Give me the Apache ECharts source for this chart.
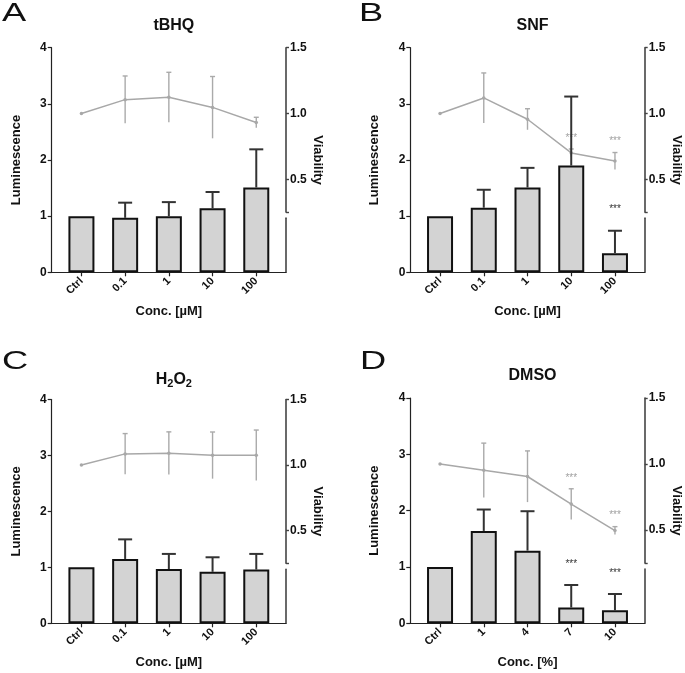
<!DOCTYPE html>
<html>
<head>
<meta charset="utf-8">
<script src="https://cdn.jsdelivr.net/npm/echarts@6/dist/echarts.min.js"></script>
<style>html,body{margin:0;padding:0;background:#fff}#c{width:685px;height:673px}</style>
</head>
<body>
<div id="c"></div>
<script>
// ---- data ----
var catsUM = ['Ctrl', '0.1', '1', '10', '100'];
var catsPct = ['Ctrl', '1', '4', '7', '10'];
var lumTicks = [0, 1, 2, 3, 4];
var viaTicks = [0.5, 1.0, 1.5];

var tbhqLum = [1.0, 0.97, 1.0, 1.14, 1.51];
var tbhqLumErr = [0, 0.27, 0.25, 0.29, 0.68];
var tbhqVia = [1.0, 1.105, 1.123, 1.046, 0.931];
var tbhqViaErr = [0, 0.18, 0.19, 0.235, 0.04];
var tbhqLumSig = ['', '', '', '', ''];
var tbhqViaSig = ['', '', '', '', ''];

var snfLum = [1.0, 1.15, 1.51, 1.90, 0.34];
var snfLumErr = [0, 0.32, 0.35, 1.23, 0.40];
var snfVia = [1.0, 1.118, 0.956, 0.70, 0.638];
var snfViaErr = [0, 0.19, 0.08, 0.03, 0.065];
var snfLumSig = ['', '', '', '', '***'];
var snfViaSig = ['', '', '', '***', '***'];

var h2o2Lum = [1.0, 1.15, 0.97, 0.92, 0.96];
var h2o2LumErr = [0, 0.35, 0.27, 0.26, 0.28];
var h2o2Via = [1.0, 1.085, 1.09, 1.074, 1.074];
var h2o2ViaErr = [0, 0.155, 0.163, 0.178, 0.193];
var h2o2LumSig = ['', '', '', '', ''];
var h2o2ViaSig = ['', '', '', '', ''];

var dmsoLum = [1.0, 1.64, 1.29, 0.28, 0.23];
var dmsoLumErr = [0, 0.38, 0.70, 0.40, 0.29];
var dmsoVia = [1.0, 0.952, 0.905, 0.696, 0.495];
var dmsoViaErr = [0, 0.206, 0.194, 0.116, 0.03];
var dmsoLumSig = ['', '', '', '***', '***'];
var dmsoViaSig = ['', '', '', '***', '***'];

var panels = [
  {letter: 'A', title: 'tBHQ', cats: catsUM, xName: 'Conc. [µM]', lum: tbhqLum, lumErr: tbhqLumErr, via: tbhqVia, viaErr: tbhqViaErr, lumSig: tbhqLumSig, viaSig: tbhqViaSig,
   L: 51.7, R: 286, T: 47.7, B: 272.3, lx: 2, ly: 2, ty: 13},
  {letter: 'B', title: 'SNF', cats: catsUM, xName: 'Conc. [µM]', lum: snfLum, lumErr: snfLumErr, via: snfVia, viaErr: snfViaErr, lumSig: snfLumSig, viaSig: snfViaSig,
   L: 410.3, R: 644.7, T: 47.7, B: 272.3, lx: 359, ly: 2, ty: 13},
  {letter: 'C', title: '{a|H}{s|2}{a|O}{s|2}', cats: catsUM, xName: 'Conc. [µM]', lum: h2o2Lum, lumErr: h2o2LumErr, via: h2o2Via, viaErr: h2o2ViaErr, lumSig: h2o2LumSig, viaSig: h2o2ViaSig,
   L: 51.7, R: 286, T: 399.5, B: 623.3, lx: 2, ly: 350, ty: 365},
  {letter: 'D', title: 'DMSO', cats: catsPct, xName: 'Conc. [%]', lum: dmsoLum, lumErr: dmsoLumErr, via: dmsoVia, viaErr: dmsoViaErr, lumSig: dmsoLumSig, viaSig: dmsoViaSig,
   L: 410.3, R: 644.7, T: 398, B: 623.3, lx: 360, ly: 350, ty: 363}
];

var FONT = '"Liberation Sans", Arial, sans-serif';
var XMIN = -0.68, XMAX = 4.68;

function errRenderer(color, lw, capHalf, starColor, starGap, starSize) {
  return function (params, api) {
    var x = api.value(0), lo = api.value(1), hi = api.value(2);
    var sig = api.value(3);
    var pLo = api.coord([x, lo]);
    var pHi = api.coord([x, hi]);
    var children = [];
    if (hi > lo) {
      children.push({type: 'line', shape: {x1: pLo[0], y1: pLo[1], x2: pHi[0], y2: pHi[1]}, style: {stroke: color, lineWidth: lw}});
      children.push({type: 'line', shape: {x1: pHi[0] - capHalf, y1: pHi[1], x2: pHi[0] + capHalf, y2: pHi[1]}, style: {stroke: color, lineWidth: lw}});
    }
    if (sig) {
      children.push({type: 'text', x: pHi[0], y: pHi[1] - starGap,
        style: {text: sig, fill: starColor, fontSize: starSize, fontFamily: FONT, align: 'center', verticalAlign: 'middle'}});
    }
    return {type: 'group', children: children};
  };
}

var grids = [], xAxes = [], yAxes = [], series = [], titles = [], graphics = [];

panels.forEach(function (p, k) {
  var H = p.B - p.T;
  var upH = 0.732 * H;
  var lowTop = p.T + 0.759 * H;
  var g0 = grids.length;
  grids.push({left: p.L, width: p.R - p.L, top: p.T, height: H});
  grids.push({left: p.L, width: p.R - p.L, top: p.T, height: upH});
  grids.push({left: p.L, width: p.R - p.L, top: lowTop, height: p.B - lowTop});

  var x0 = xAxes.length;
  xAxes.push({
    gridIndex: g0, type: 'value', min: XMIN, max: XMAX,
    name: p.xName, nameLocation: 'middle', nameGap: 33,
    nameTextStyle: {fontSize: 13, fontWeight: 'bold', fontFamily: FONT, color: '#111'},
    axisLine: {show: true, onZero: false, lineStyle: {color: '#222', width: 1.2}},
    axisTick: {show: true, length: 4, lineStyle: {color: '#222', width: 1.2}, customValues: [0, 1, 2, 3, 4]},
    axisLabel: {show: true, rotate: 45, margin: 7, fontSize: 11, fontWeight: 'bold', fontFamily: FONT, color: '#111',
      customValues: [0, 1, 2, 3, 4], formatter: (function (cats) { return function (v) { return cats[Math.round(v)]; }; })(p.cats)},
    splitLine: {show: false}
  });
  xAxes.push({gridIndex: g0 + 1, type: 'value', min: XMIN, max: XMAX, show: false});
  xAxes.push({gridIndex: g0 + 2, type: 'value', min: XMIN, max: XMAX, show: false});

  var y0 = yAxes.length;
  yAxes.push({
    gridIndex: g0, type: 'value', position: 'left', min: 0, max: 4, interval: 1,
    name: 'Luminescence', nameLocation: 'middle', nameGap: 29,
    nameTextStyle: {fontSize: 13, fontWeight: 'bold', fontFamily: FONT, color: '#111'},
    axisLine: {show: true, onZero: false, lineStyle: {color: '#222', width: 1.2}},
    axisTick: {show: true, length: 4, lineStyle: {color: '#222', width: 1.2}},
    axisLabel: {show: true, margin: 5, fontSize: 12, fontWeight: 'bold', fontFamily: FONT, color: '#111'},
    splitLine: {show: false}
  });
  yAxes.push({
    gridIndex: g0 + 1, type: 'value', position: 'right', min: 0.25, max: 1.5,
    axisLine: {show: true, onZero: false, lineStyle: {color: '#444', width: 1.6}},
    axisTick: {show: true, length: 3, lineStyle: {color: '#444', width: 1.4}, customValues: [0.25].concat(viaTicks)},
    axisLabel: {show: true, margin: 4, fontSize: 12, fontWeight: 'bold', fontFamily: FONT, color: '#111',
      customValues: viaTicks, formatter: function (v) { return v.toFixed(1); }},
    splitLine: {show: false}
  });
  yAxes.push({
    gridIndex: g0 + 2, type: 'value', position: 'right', min: 0, max: 1,
    axisLine: {show: true, onZero: false, lineStyle: {color: '#444', width: 1.6}},
    axisTick: {show: false}, axisLabel: {show: false}, splitLine: {show: false}
  });
  yAxes.push({
    gridIndex: g0, type: 'value', position: 'right', min: 0, max: 1,
    name: 'Viability', nameLocation: 'middle', nameGap: 25, nameRotate: -90,
    nameTextStyle: {fontSize: 13, fontWeight: 'bold', fontFamily: FONT, color: '#111'},
    axisLine: {show: false, onZero: false}, axisTick: {show: false}, axisLabel: {show: false}, splitLine: {show: false}
  });

  series.push({
    type: 'bar', xAxisIndex: x0, yAxisIndex: y0, barWidth: 26, silent: true, z: 2,
    itemStyle: {color: '#d3d3d3', borderColor: '#111', borderWidth: 2},
    data: p.lum.map(function (v, i) { return [i, v]; })
  });
  series.push({
    type: 'line', xAxisIndex: x0 + 1, yAxisIndex: y0 + 1, silent: true, z: 3,
    symbol: 'circle', symbolSize: 3.5, showSymbol: true,
    lineStyle: {color: '#a8a8a8', width: 1.5}, itemStyle: {color: '#a8a8a8'},
    data: p.via.map(function (v, i) { return [i, v]; })
  });
  series.push({
    type: 'custom', xAxisIndex: x0 + 1, yAxisIndex: y0 + 1, silent: true, z: 3,
    renderItem: errRenderer('#aaaaaa', 1.4, 2.5, '#a0a0a0', 11, 10),
    data: p.via.map(function (v, i) { return [i, v - p.viaErr[i], v + p.viaErr[i], p.viaSig[i]]; })
  });
  series.push({
    type: 'custom', xAxisIndex: x0, yAxisIndex: y0, silent: true, z: 4,
    renderItem: errRenderer('#333333', 2, 7, '#333333', 21, 10),
    data: p.lum.map(function (v, i) { return [i, v, v + p.lumErr[i], p.lumSig[i]]; })
  });

  titles.push({
    text: p.title, left: (p.L + p.R) / 2, top: p.ty, textAlign: 'center',
    textStyle: {fontSize: 16, fontWeight: 'bold', fontFamily: FONT, color: '#111',
      rich: {a: {fontSize: 16, fontWeight: 'bold', fontFamily: FONT, color: '#111'},
             s: {fontSize: 11, fontWeight: 'bold', fontFamily: FONT, color: '#111', padding: [8, 0, 0, 0]}}}
  });
  graphics.push({
    type: 'text', x: p.lx, y: p.ly, scaleX: 1.45, originX: 0,
    style: {text: p.letter, fontSize: 25, fontFamily: FONT, fill: '#111', verticalAlign: 'top'}
  });
});

var chart = echarts.init(document.getElementById('c'), null, {renderer: 'canvas'});
chart.setOption({
  animation: false,
  backgroundColor: '#fff',
  title: titles,
  grid: grids,
  xAxis: xAxes,
  yAxis: yAxes,
  series: series,
  graphic: graphics
});
</script>
</body>
</html>
